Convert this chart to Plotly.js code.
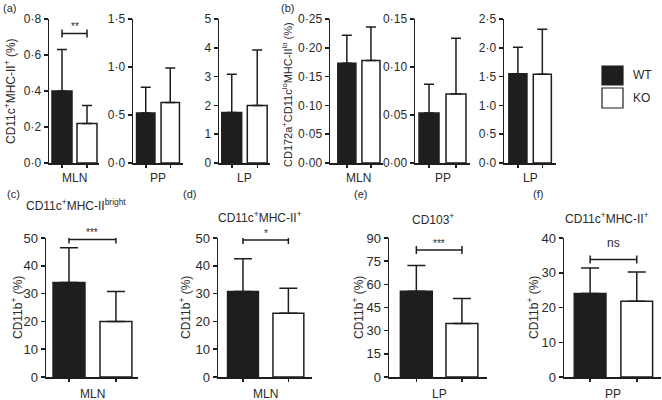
<!DOCTYPE html>
<html>
<head>
<meta charset="utf-8">
<script src="https://cdn.plot.ly/plotly-3.0.1.min.js"></script>
<style>
  html, body { margin: 0; padding: 0; background: #fff; }
</style>
</head>
<body>
<div id="chart" style="width:662px;height:400px"></div>
<script>
// groups
const groups = ['WT', 'KO'];

// (a) and (b): % of cells per tissue, mean and SD (upper bar only)
const tissues = ['MLN', 'PP', 'LP'];
const aWT = [0.40, 0.52, 1.75];
const aWTsd = [0.23, 0.27, 1.33];
const aKO = [0.22, 0.63, 2.00];
const aKOsd = [0.10, 0.36, 1.92];
const aSig = ['**', '', ''];
const aSigLevel = [0.72, null, null];

const bWT = [0.173, 0.052, 1.55];
const bWTsd = [0.049, 0.030, 0.46];
const bKO = [0.178, 0.072, 1.54];
const bKOsd = [0.058, 0.058, 0.78];

// (c)-(f): CD11b+ (%) within subsets
const cTissues = ['MLN', 'MLN', 'LP', 'PP'];
const cTitles = [
  'CD11c<sup>+</sup>MHC-II<sup>bright</sup>',
  'CD11c<sup>+</sup>MHC-II<sup>+</sup>',
  'CD103<sup>+</sup>',
  'CD11c<sup>+</sup>MHC-II<sup>+</sup>',
];
const cWT = [34.0, 30.8, 55.5, 24.0];
const cWTsd = [12.5, 11.7, 16.7, 7.4];
const cKO = [20.0, 22.9, 34.7, 21.8];
const cKOsd = [10.8, 9.0, 16.1, 8.4];
const cSig = ['***', '*', '***', 'ns'];
const cSigLevel = [49.5, 49.3, 82.3, 33.8];

const W = 662;
const H = 400;
const INK = '#1e1e1e';
const TXT = '#2a2a2a';
const FONT = 'Liberation Sans, Arial, sans-serif';

// panel boxes in pixels
const TOP = { t: 19, b: 163 };
const BOT = { t: 238, b: 377 };
const panels = [
  { l: 49, r: 99, row: TOP, xr: [-0.52, 1.48], ymax: 0.8, dtick: 0.2, fmt: '.1f', bw: 0.8, cap: 5 },
  { l: 133, r: 183, row: TOP, xr: [-0.52, 1.52], ymax: 1.5, dtick: 0.5, fmt: '.1f', bw: 0.75, cap: 5 },
  { l: 219, r: 270, row: TOP, xr: [-0.5, 1.5], ymax: 5, dtick: 1, fmt: 'd', bw: 0.78, cap: 5 },
  { l: 330, r: 383, row: TOP, xr: [-0.7, 1.5], ymax: 0.25, dtick: 0.05, fmt: '.2f', bw: 0.75, cap: 5 },
  { l: 415, r: 470, row: TOP, xr: [-0.52, 1.52], ymax: 0.15, dtick: 0.05, fmt: '.2f', bw: 0.74, cap: 5 },
  { l: 504, r: 556, row: TOP, xr: [-0.57, 1.56], ymax: 2.5, dtick: 0.5, fmt: '.1f', bw: 0.74, cap: 5 },
  { l: 46, r: 138, row: BOT, xr: [-0.49, 1.47], ymax: 50, dtick: 10, fmt: 'd', bw: 0.68, cap: 9 },
  { l: 218, r: 312, row: BOT, xr: [-0.55, 1.52], ymax: 50, dtick: 10, fmt: 'd', bw: 0.68, cap: 9 },
  { l: 389, r: 487, row: BOT, xr: [-0.6, 1.55], ymax: 90, dtick: 15, fmt: 'd', bw: 0.7, cap: 9 },
  { l: 564, r: 661, row: BOT, xr: [-0.56, 1.52], ymax: 40, dtick: 10, fmt: 'd', bw: 0.68, cap: 9 },
];

// per panel data in the same order as panels
const series = [];
for (let i = 0; i < 3; i += 1) {
  series.push({ wt: aWT[i], wtsd: aWTsd[i], ko: aKO[i], kosd: aKOsd[i], cat: tissues[i], sig: aSig[i], lvl: aSigLevel[i] });
}
for (let i = 0; i < 3; i += 1) {
  series.push({ wt: bWT[i], wtsd: bWTsd[i], ko: bKO[i], kosd: bKOsd[i], cat: tissues[i], sig: '', lvl: null });
}
for (let i = 0; i < 4; i += 1) {
  series.push({ wt: cWT[i], wtsd: cWTsd[i], ko: cKO[i], kosd: cKOsd[i], cat: cTissues[i], sig: cSig[i], lvl: cSigLevel[i] });
}

const px = (x) => x / W;
const py = (y) => 1 - y / H;

const data = [];
const layout = {
  width: W,
  height: H,
  margin: { l: 0, r: 0, t: 0, b: 0 },
  paper_bgcolor: '#fff',
  plot_bgcolor: 'rgba(0,0,0,0)',
  showlegend: false,
  separators: '·,',
  font: { family: FONT, color: TXT, size: 12 },
  annotations: [],
  shapes: [],
};

panels.forEach((p, i) => {
  const s = series[i];
  const n = i === 0 ? '' : String(i + 1);
  const xa = 'x' + n;
  const ya = 'y' + n;
  const big = p.row === BOT;

  data.push({
    type: 'bar',
    x: [0, 1],
    y: [s.wt, s.ko],
    width: p.bw,
    xaxis: xa,
    yaxis: ya,
    name: groups.join('/'),
    marker: {
      color: [INK, '#ffffff'],
      line: { color: INK, width: 1.5 },
    },
    error_y: {
      type: 'data',
      symmetric: false,
      array: [s.wtsd, s.kosd],
      arrayminus: [0, 0],
      color: INK,
      thickness: 1.5,
      width: p.cap,
    },
  });

  if (s.lvl !== null) {
    // significance bracket between the two bar centres
    data.push({
      type: 'scatter',
      mode: 'markers',
      x: [0.5],
      y: [s.lvl],
      xaxis: xa,
      yaxis: ya,
      marker: { size: 1, opacity: 0 },
      error_x: { type: 'constant', value: 0.5, color: INK, thickness: 1.5, width: 4 },
    });
    layout.annotations.push({
      xref: xa, yref: ya, x: 0.5, y: s.lvl,
      text: s.sig, showarrow: false,
      yanchor: 'bottom',
      yshift: s.sig === 'ns' ? 8 : -1,
      font: { size: s.sig === 'ns' ? 12 : 10, color: TXT },
    });
  }

  layout['xaxis' + n] = {
    domain: [px(p.l), px(p.r)],
    anchor: ya,
    range: p.xr,
    tickvals: [0, 1],
    showticklabels: false,
    ticks: 'outside',
    ticklen: 3,
    tickwidth: 1.5,
    tickcolor: INK,
    showline: true,
    linecolor: INK,
    linewidth: 1.5,
    showgrid: false,
    zeroline: false,
    fixedrange: true,
  };
  layout['yaxis' + n] = {
    domain: [py(p.row.b), py(p.row.t)],
    anchor: xa,
    range: [0, p.ymax],
    tick0: 0,
    dtick: p.dtick,
    tickformat: p.fmt,
    ticks: 'outside',
    ticklen: 4,
    tickwidth: 1.5,
    tickcolor: INK,
    tickfont: { size: big ? 13 : 12, color: TXT },
    showline: true,
    linecolor: INK,
    linewidth: 1.5,
    showgrid: false,
    zeroline: false,
    fixedrange: true,
  };

  // category label under the pair of bars
  layout.annotations.push({
    xref: xa, yref: ya + ' domain', x: 0.5, y: 0,
    text: s.cat, showarrow: false,
    yanchor: 'top', yshift: big ? -8 : -6,
    font: { size: 12, color: TXT },
  });
});

// y axis titles
const yTitles = [
  { x: 10, y: 91, size: 12, text: 'CD11c<sup>+</sup>MHC-II<sup>+</sup> (%)' },
  { x: 287, y: 95, size: 11, text: 'CD172a<sup>+</sup>CD11c<sup>lo</sup>MHC-II<sup>lo</sup> (%)' },
  { x: 17, y: 308, size: 12, text: 'CD11b<sup>+</sup> (%)' },
  { x: 185, y: 308, size: 12, text: 'CD11b<sup>+</sup> (%)' },
  { x: 358, y: 308, size: 12, text: 'CD11b<sup>+</sup> (%)' },
  { x: 533, y: 308, size: 12, text: 'CD11b<sup>+</sup> (%)' },
];
yTitles.forEach((t) => {
  layout.annotations.push({
    xref: 'paper', yref: 'paper', x: px(t.x), y: py(t.y),
    text: t.text, textangle: -90, showarrow: false,
    xanchor: 'center', yanchor: 'middle',
    font: { size: t.size, color: TXT },
  });
});

// panel titles of the bottom row
const titlePos = [[76, 205], [260, 217], [433, 219], [607, 218]];
cTitles.forEach((t, i) => {
  layout.annotations.push({
    xref: 'paper', yref: 'paper', x: px(titlePos[i][0]), y: py(titlePos[i][1]),
    text: t, showarrow: false, xanchor: 'center', yanchor: 'middle',
    font: { size: 12, color: TXT },
  });
});

// panel letters
const letters = [['(a)', 9, 8], ['(b)', 287, 8], ['(c)', 13, 194], ['(d)', 189, 194], ['(e)', 361, 194], ['(f)', 538, 194]];
letters.forEach(([t, x, y]) => {
  layout.annotations.push({
    xref: 'paper', yref: 'paper', x: px(x), y: py(y),
    text: t, showarrow: false, xanchor: 'center', yanchor: 'middle',
    font: { size: 11, color: TXT },
  });
});

// legend
const legendRows = [{ y0: 66, y1: 85, fill: INK }, { y0: 88, y1: 108, fill: '#ffffff' }];
groups.forEach((g, i) => {
  const r = legendRows[i];
  layout.shapes.push({
    type: 'rect', xref: 'paper', yref: 'paper',
    x0: px(602), x1: px(623), y0: py(r.y1), y1: py(r.y0),
    fillcolor: r.fill, line: { color: INK, width: 1.2 },
  });
  layout.annotations.push({
    xref: 'paper', yref: 'paper', x: px(631), y: py((r.y0 + r.y1) / 2),
    text: g, showarrow: false, xanchor: 'left', yanchor: 'middle',
    font: { size: 12, color: TXT },
  });
});

Plotly.newPlot('chart', data, layout, { displayModeBar: false, staticPlot: true });
</script>
</body>
</html>
